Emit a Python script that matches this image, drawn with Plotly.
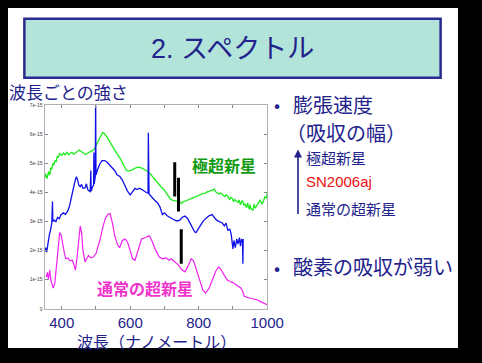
import plotly.graph_objects as go

# screen size of the slide; the page body keeps its default 8px margin,
# so the figure itself is 16px smaller and drawn at (8, 8)
SW, SH = 482, 363
OFF = 8
W, H = SW - 2 * OFF, SH - 2 * OFF

# ---------------- data (flux in units of 1e-15) ----------------
hyper_nm = [350, 353, 357, 362, 365, 368, 371, 374, 377, 380, 384, 387, 390, 394, 400, 405, 410, 415, 420, 425,
            430, 435, 440, 445, 451, 456, 460, 465, 470, 475, 480, 485, 490, 495, 500, 505, 510, 515, 520, 524,
            528, 534, 540, 547, 555, 562, 569, 575, 580, 585, 589, 595, 600, 606, 612, 618, 625, 632, 640, 647,
            654, 660, 665, 670, 676, 683, 690, 699, 705, 710, 717, 723, 730, 737, 745, 750, 755, 760, 765, 772,
            780, 786, 792, 798, 805, 812, 820, 825, 830, 835, 839, 845, 850, 855, 860, 864, 868, 872, 876, 880,
            885, 890, 894, 898, 902, 905, 910, 915, 918, 922, 925, 928, 932, 935, 940, 943, 945, 948, 950, 953,
            958, 962, 965, 968, 972, 975, 980, 984, 988, 993, 997, 1000]
hyper_flux = [4.5, 4.65, 4.48, 4.72, 4.6, 4.85, 4.8, 5.0, 4.95, 5.1, 5.05, 5.25, 5.2, 5.34, 5.28, 5.36, 5.3, 5.38, 5.3, 5.36,
              5.38, 5.32, 5.36, 5.42, 5.46, 5.42, 5.38, 5.35, 5.31, 5.35, 5.38, 5.42, 5.45, 5.5, 5.6, 5.72, 5.85, 5.96, 6.06, 6.04,
              5.98, 5.88, 5.75, 5.6, 5.45, 5.32, 5.21, 5.08, 4.96, 4.85, 4.76, 4.74, 4.75, 4.78, 4.82, 4.86, 4.87, 4.85, 4.8, 4.75,
              4.7, 4.62, 4.55, 4.47, 4.37, 4.28, 4.2, 4.09, 3.98, 3.9, 3.78, 3.74, 3.72, 3.7, 3.68, 3.62, 3.69, 3.7, 3.72, 3.76,
              3.8, 3.83, 3.86, 3.9, 3.93, 3.96, 3.98, 4.03, 4.03, 4.08, 4.06, 4.12, 4.02, 3.98, 3.95, 3.99, 3.94, 3.88, 3.86, 3.92,
              3.88, 3.74, 3.84, 3.8, 3.68, 3.76, 3.72, 3.66, 3.74, 3.58, 3.68, 3.73, 3.56, 3.62, 3.48, 3.64, 3.52, 3.42, 3.58, 3.44,
              3.38, 3.6, 3.46, 3.52, 3.62, 3.7, 3.75, 3.6, 3.66, 3.85, 3.8, 3.98]

sn06aj_nm = [350, 353, 356, 360, 364, 368, 371, 373, 374, 378, 383, 388, 393, 398, 405, 411, 417, 422, 426, 431,
             436, 440, 443, 447, 450, 454, 458, 462, 468, 472, 476, 480, 483, 485, 486, 490, 493, 494, 495, 498,
             499, 500, 505, 512, 518, 525, 532, 540, 548, 555, 562, 570, 577, 585, 592, 600, 605, 610, 614, 620,
             627, 633, 640, 647, 652, 653, 655, 662, 670, 680, 687, 694, 700, 708, 717, 725, 736, 745, 752, 760,
             768, 775, 782, 788, 792, 798, 805, 812, 820, 830, 839, 845, 852, 860, 868, 875, 880, 885, 891, 895,
             900, 903, 907, 911, 915, 919, 922, 925, 928, 929, 930]
sn06aj_flux = [1.96, 2.1, 1.95, 2.3, 2.55, 2.75, 2.95, 3.69, 3.0, 3.05, 3.0, 3.15, 3.1, 3.24, 3.3, 3.25, 3.35, 3.5, 3.75, 4.0,
               4.25, 4.45, 4.54, 4.4, 4.25, 4.2, 4.28, 4.15, 4.16, 4.3, 4.1, 4.05, 4.03, 4.76, 4.05, 4.2, 4.25, 5.38, 4.3, 4.55,
               7.5, 4.6, 4.8, 5.0, 5.1, 5.1, 5.05, 4.95, 4.87, 4.75, 4.6, 4.55, 4.43, 4.2, 4.05, 3.92, 4.0, 4.08, 4.14, 4.1,
               4.15, 4.11, 4.05, 4.0, 3.98, 6.06, 3.95, 3.85, 3.75, 3.64, 3.5, 3.24, 3.3, 3.2, 3.13, 3.08, 3.02, 3.05, 3.15, 3.19,
               3.1, 2.95, 2.8, 2.65, 2.62, 2.75, 2.85, 3.0, 3.1, 3.2, 3.24, 3.15, 3.05, 3.0, 2.96, 2.85, 2.95, 2.7, 2.74, 2.55,
               2.06, 2.35, 2.1, 2.4, 2.23, 2.45, 2.15, 2.4, 2.3, 1.55, 2.4]

normal_nm = [355, 358, 361, 365, 368, 372, 375, 380, 385, 390, 394, 398, 403, 408, 412, 418, 424, 431, 436, 440,
             445, 450, 454, 458, 462, 468, 473, 478, 485, 492, 500, 511, 520, 527, 534, 541, 548, 555, 563, 569,
             577, 585, 592, 600, 607, 614, 620, 627, 633, 645, 656, 665, 675, 685, 695, 705, 713, 720, 730, 741,
             750, 760, 768, 778, 785, 790, 797, 805, 812, 820, 830, 840, 850, 858, 865, 875, 883, 891, 900, 910,
             918, 924, 930, 933, 945, 955, 970, 985, 1000]
normal_flux = [1.1, 1.25, 1.0, 1.33, 1.0, 0.8, 0.71, 0.9, 1.5, 2.3, 2.62, 2.55, 2.17, 1.9, 1.72, 1.75, 1.65, 1.67, 1.5, 1.33,
               1.8, 2.5, 2.85, 2.6, 2.0, 1.61, 1.7, 1.83, 1.75, 1.78, 1.9, 2.34, 2.8, 3.1, 3.24, 3.28, 2.95, 2.5, 2.2, 2.1,
               2.35, 2.4, 2.3, 1.95, 1.72, 1.67, 1.9, 2.25, 2.4, 2.45, 2.51, 2.3, 2.0, 1.78, 1.72, 1.75, 1.67, 1.72, 1.62, 1.5,
               1.35, 1.27, 1.45, 1.72, 1.65, 1.45, 1.22, 0.9, 0.65, 0.54, 0.7, 1.0, 1.3, 1.44, 1.35, 1.15, 1.0, 0.94, 0.9, 0.82,
               0.75, 0.71, 0.55, 0.43, 0.38, 0.35, 0.31, 0.22, 0.14]

# absorption-minimum markers (nm, top, bottom)
marker_nm = [730, 741, 749]
marker_top = [5.04, 4.51, 2.74]
marker_bottom = [3.86, 3.35, 1.55]

x_tick_vals = [400, 500, 600, 700, 800, 900, 1000]
x_tick_text = ["400", "", "600", "", "800", "", "1000"]
y_tick_vals = [0, 1, 2, 3, 4, 5, 6, 7]
y_tick_text = ["0", "1e-15", "2e-15", "3e-15", "4e-15", "5e-15", "6e-15", "7e-15"]

NAVY = "#22228c"
JP = "Noto Sans CJK JP"

def px(x):
    return (x - OFF) / W

def py(y):
    return 1 - (y - OFF) / H

fig = go.Figure()
fig.add_trace(go.Scatter(x=hyper_nm, y=hyper_flux, mode="lines", line=dict(color="#1eec1e", width=1.3), showlegend=False))
fig.add_trace(go.Scatter(x=sn06aj_nm, y=sn06aj_flux, mode="lines", line=dict(color="#1010e8", width=1.3), showlegend=False))
fig.add_trace(go.Scatter(x=normal_nm, y=normal_flux, mode="lines", line=dict(color="#f020f0", width=1.2), showlegend=False))

mx, my = [], []
for n, t, b in zip(marker_nm, marker_top, marker_bottom):
    mx += [n, n, None]
    my += [t, b, None]
fig.add_trace(go.Scatter(x=mx, y=my, mode="lines", line=dict(color="black", width=3), showlegend=False))

shapes = [
    dict(type="rect", xref="paper", yref="paper", x0=px(3), x1=px(475), y0=py(351), y1=py(2),
         fillcolor="white", line=dict(width=0), layer="below"),
    dict(type="rect", xref="paper", yref="paper", x0=px(25), x1=px(457), y0=py(76), y1=py(16),
         fillcolor="#b2e4da", line=dict(color="#2a2a90", width=2.5), layer="below"),
]

ann = []
def txt(x, y, s, size, color=NAVY, anchor="left", bold=False, family=JP):
    ann.append(dict(xref="paper", yref="paper", x=px(x), y=py(y), text=("<b>%s</b>" % s if bold else s),
                    showarrow=False, xanchor=anchor, yanchor="middle",
                    font=dict(family=family, size=size, color=color)))

txt(241, 47, "2. スペクトル", 27, anchor="center", family="Liberation Sans, " + JP)
txt(7, 90, "波長ごとの強さ", 17)
txt(287, 103, "•", 18, anchor="center")
txt(302, 103, "膨張速度", 20)
txt(294, 132, "（吸収の幅）", 20)
txt(315, 157, "極超新星", 15)
txt(315, 182, "SN2006aj", 15, color="#ee1111", family="Liberation Sans")
txt(315, 209, "通常の超新星", 15)
txt(287, 268, "•", 18, anchor="center")
txt(302, 268, "酸素の吸収が弱い", 20)
txt(232, 165, "極超新星", 16, color="#119a11", anchor="center", bold=True)
txt(150, 290, "通常の超新星", 16, color="#f033cc", anchor="center", bold=True)
txt(162, 344, "波長（ナノメートル）", 16, anchor="center")

ann.append(dict(xref="paper", yref="paper", x=px(309), y=py(149), ax=0, ay=66, text="",
                showarrow=True, arrowhead=2, arrowsize=1, arrowwidth=1.6, arrowcolor=NAVY))

fig.update_layout(
    width=W, height=H, margin=dict(l=0, r=0, t=0, b=0),
    paper_bgcolor="black", plot_bgcolor="white",
    shapes=shapes, annotations=ann,
    xaxis=dict(domain=[px(46), px(277)], range=[350, 1000], tickvals=x_tick_vals, ticktext=x_tick_text,
               ticks="inside", ticklen=3, tickcolor="#888", showgrid=False, zeroline=False,
               showline=True, linecolor="#b0b0b0", linewidth=1, mirror="ticks",
               tickfont=dict(family="Liberation Sans", size=15, color=NAVY)),
    yaxis=dict(domain=[py(311), py(104)], range=[0, 7], tickvals=y_tick_vals, ticktext=y_tick_text,
               ticks="inside", ticklen=3, tickcolor="#888", showgrid=False, zeroline=False,
               showline=True, linecolor="#b0b0b0", linewidth=1, mirror="ticks",
               tickfont=dict(family="Liberation Sans", size=5, color="#444")),
)

# colour-only page styling (no layout change): black page, white frame strip around the figure
post = ("document.documentElement.style.background='black';"
        "var d=document.getElementById('{plot_id}');"
        "d.style.boxShadow='-2px -3px 0 3px white';")

fig.write_html("out.html", config={"displayModeBar": False}, post_script=post)
